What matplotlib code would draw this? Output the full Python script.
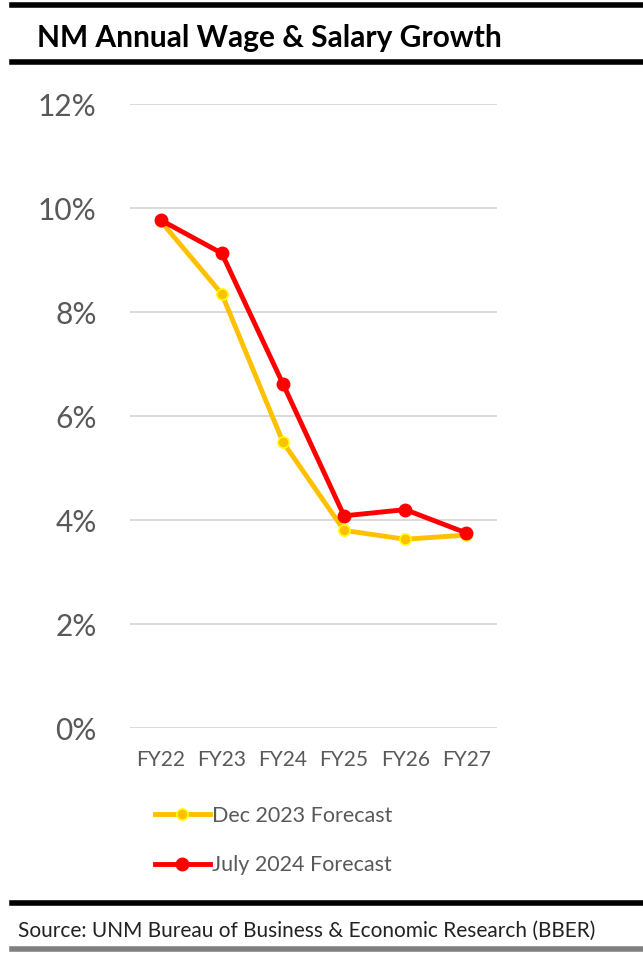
import matplotlib.pyplot as plt
from matplotlib.lines import Line2D

years = ['FY22', 'FY23', 'FY24', 'FY25', 'FY26', 'FY27']
dec_2023 = [9.75, 8.35, 5.5, 3.8, 3.63, 3.71]
july_2024 = [9.77, 9.13, 6.62, 4.08, 4.2, 3.75]
y_ticks = [0, 2, 4, 6, 8, 10, 12]

plt.rcParams['font.family'] = ['Lato', 'DejaVu Sans']

fig = plt.figure(figsize=(6.43, 9.55), dpi=100)
ax = fig.add_axes([130 / 643, 1 - 728 / 955, 367 / 643, 624 / 955])

x = range(len(years))
ax.plot(x, dec_2023, color='#FFC000', lw=3.5, marker='o', ms=8,
        mfc='#FFC000', mec='#FFFF00', mew=1.2, label='Dec 2023 Forecast', zorder=3)
ax.plot(x, july_2024, color='#FF0000', lw=3.5, marker='o', ms=9,
        mfc='#FF0000', mec='#FF0000', label='July 2024 Forecast', zorder=4)

ax.set_xlim(-0.5, len(years) - 0.5)
ax.set_ylim(0, 12)
ax.set_yticks(y_ticks)
ax.set_yticklabels([f'{t}%' for t in y_ticks], fontsize=21.5, color='#595959')
ax.set_xticks(list(x))
ax.set_xticklabels(years, fontsize=15, color='#595959')
ax.tick_params(length=0)
ax.tick_params(axis='y', pad=24)
ax.tick_params(axis='x', pad=16)
ax.grid(axis='y', color='#d9d9d9', lw=1.3)
ax.set_axisbelow(True)
for s in ax.spines.values():
    s.set_visible(False)

ax.legend(loc='upper left', bbox_to_anchor=(155 / 643, 1 - 806 / 955),
          bbox_transform=fig.transFigure, frameon=False, fontsize=15.5,
          labelcolor='#595959', handlelength=2.55, handletextpad=0.12,
          labelspacing=1.35, borderpad=0, borderaxespad=0)

# header and footer rules
for yy, col in [(5, 'black'), (62, 'black'), (903, 'black'), (949, '#808080')]:
    fig.add_artist(Line2D([12 / 643, 1], [1 - yy / 955] * 2, color=col, lw=4,
                          transform=fig.transFigure))

fig.text(37 / 643, 1 - 38 / 955, 'NM Annual Wage & Salary Growth', fontsize=21.5,
         fontweight='bold', va='center', ha='left')
fig.text(18 / 643, 1 - 931 / 955, 'Source: UNM Bureau of Business & Economic Research (BBER)',
         fontsize=15, color='#222222', va='center', ha='left')

fig.savefig('out.png', dpi=100)
